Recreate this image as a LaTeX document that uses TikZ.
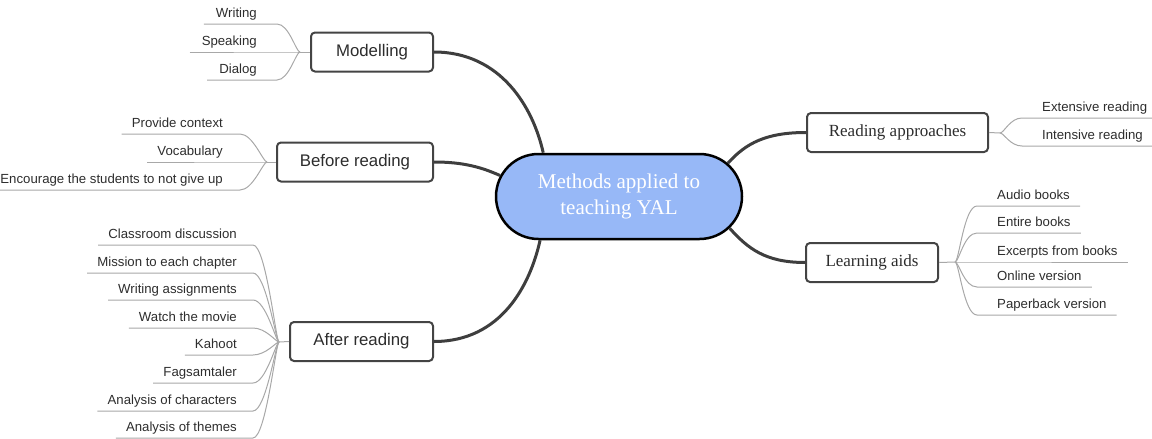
\documentclass[tikz,border=0pt]{standalone}
\usepackage{fontspec}
\setmainfont{Liberation Serif}
\setsansfont{Liberation Sans}
\usetikzlibrary{shapes.misc,calc}
\definecolor{cfill}{RGB}{151,184,247}
\definecolor{boxline}{RGB}{68,68,68}
\definecolor{connline}{RGB}{62,62,62}
\definecolor{leafline}{RGB}{168,168,168}
\definecolor{leaftext}{RGB}{45,45,45}
\begin{document}
\begin{tikzpicture}[x=1pt,y=-1pt,
  hub/.style={rounded rectangle, draw=black, line width=2.5pt, fill=cfill,
    minimum width=246pt, minimum height=85pt, text=white, align=center,
    inner sep=0pt, font=\fontsize{21}{26}\selectfont},
  branch/.style={draw=boxline, line width=2pt, rounded corners=4pt, fill=white,
    minimum height=39pt, inner sep=0pt, text=leaftext},
  sbranch/.style={branch, font=\sffamily\fontsize{16.8}{19}\selectfont},
  rbranch/.style={branch, font=\fontsize{17}{20}\selectfont},
  conn/.style={draw=connline, line width=3pt},
  leaf/.style={font=\sffamily\fontsize{13.2}{15}\selectfont, text=leaftext,
    inner xsep=0pt, inner ysep=3pt, text height=9.5pt, text depth=3pt},
  leafL/.style={leaf, anchor=south east},
  leafR/.style={leaf, anchor=south west},
  leafln/.style={draw=leafline, line width=1pt}]
\useasboundingbox (0,0) rectangle (1152,439);

% central node
\node[hub] (c) at (619,196.5) {\raisebox{-3pt}{\parbox{200pt}{\centering Methods applied to\\teaching YAL}}};

% branch boxes
\node[sbranch, minimum width=122pt] (mod) at (372,52) {Modelling};
\node[sbranch, minimum width=156pt] (bef) at (355,162) {Before reading};
\node[sbranch, minimum width=143pt] (aft) at (361.5,341.5) {After reading};
\node[rbranch, minimum width=181pt] (rap) at (897.5,132.5) {Reading approaches};
\node[rbranch, minimum width=132pt] (lai) at (872,262.5) {Learning aids};

% connectors from central node
\draw[conn] (mod.east) .. controls +(67,0) and +(-10,-45) .. (c.150.7);
\draw[conn] (bef.east) .. controls +(30,0) and +(-18,-8) .. (c.170);
\draw[conn] (aft.east) .. controls +(67,0) and +(-10,45) .. (c.209.3);
\draw[conn] (rap.west) .. controls +(-40,0) and +(18,-20) .. (c.17.3);
\draw[conn] (lai.west) .. controls +(-40,0) and +(18,20) .. (c.-16.4);

% junctions
\coordinate (mj) at (300,52);
\coordinate (bj) at (267,162);
\coordinate (aj) at (279,342);
\coordinate (rj) at (1000,133);
\coordinate (lj) at (955,262);
\draw[leafln] (mj) -- (mod.west);
\draw[leafln] (bj) -- (bef.west);
\draw[leafln] (aj) -- (aft.west);
\draw[leafln] (rj) -- (rap.east);
\draw[leafln] (lj) -- (lai.east);

% Modelling leaves
\foreach \n/\t/\y in {m1/Writing/24, m2/Speaking/52, m3/Dialog/80}{
  \node[leafL] (\n) at (257,\y) {\t};
  \draw[leafln] ($(\n.south west)+(-12,0)$) -- ($(\n.south east)+(20,0)$)
    .. controls +(12,0) and +(-4,0) .. (mj);
}
% Before reading leaves
\foreach \n/\t/\y in {b1/Provide context/134, b2/Vocabulary/162, b3/Encourage the students to not give up/190}{
  \node[leafL] (\n) at (223,\y) {\t};
  \draw[leafln] ($(\n.south west)+(-10,0)$) -- ($(\n.south east)+(17,0)$)
    .. controls +(13,0) and +(-4,0) .. (bj);
}
% After reading leaves
\foreach \n/\t/\y in {a1/Classroom discussion/245, a2/Mission to each chapter/273,
  a3/Writing assignments/300, a4/Watch the movie/328, a5/Kahoot/355,
  a6/Fagsamtaler/383, a7/Analysis of characters/411, a8/Analysis of themes/438}{
  \node[leafL] (\n) at (237,\y) {\t};
  \draw[leafln] ($(\n.south west)+(-10,0)$) -- ($(\n.south east)+(16,0)$)
    .. controls +(13,0) and +(-3,0) .. (aj);
}
% Reading approaches leaves
\foreach \n/\t/\y in {r1/Extensive reading/118, r2/Intensive reading/146}{
  \node[leafR] (\n) at (1042,\y) {\t};
  \draw[leafln] (rj) .. controls +(4,0) and +(-12,0) .. ($(\n.south west)+(-20,0)$)
    -- ($(\n.south east)+(9,0)$);
}
% Learning aids leaves
\foreach \n/\t/\y in {l1/Audio books/206, l2/Entire books/233, l3/Excerpts from books/262,
  l4/Online version/287, l5/Paperback version/315}{
  \node[leafR] (\n) at (997,\y) {\t};
  \draw[leafln] (lj) .. controls +(4,0) and +(-13,0) .. ($(\n.south west)+(-20,0)$)
    -- ($(\n.south east)+(10,0)$);
}
\end{tikzpicture}
\end{document}
